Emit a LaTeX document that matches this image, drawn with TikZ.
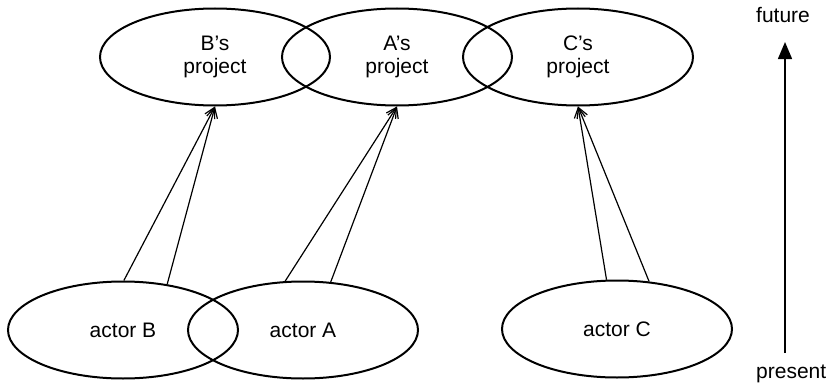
\documentclass[tikz,border=0pt]{standalone}
\usepackage{fontspec}
\setmainfont{Liberation Sans}
\usepackage{tikz}
\usetikzlibrary{arrows.meta,shapes.geometric}

\tikzset{
  blob/.style={draw,ellipse,line width=2pt,minimum width=230pt,minimum height=97pt,
    inner sep=0pt,align=center,font=\fontsize{21}{23}\selectfont},
  aim/.style={line width=1.2pt,-{Straight Barb[length=10pt,width=11pt,line width=1.2pt]}},
  lbl/.style={font=\fontsize{21}{23}\selectfont,inner sep=0pt}
}

\begin{document}
\begin{tikzpicture}[x=1pt,y=1pt]
  \useasboundingbox (0,0) rectangle (830,384);
  % projects in the future
  \node[blob] (Bproj) at (215,327) {B’s\\project};
  \node[blob] (Aproj) at (397,327) {A’s\\project};
  \node[blob] (Cproj) at (578,327) {C’s\\project};
  % actors in the present
  \node[blob] (actB) at (123,54) {actor B};
  \node[blob] (actA) at (303,54) {actor A};
  \node[blob] (actC) at (617,55) {actor C};
  \draw[aim] (actB.89) -- (Bproj.south);
  \draw[aim] (actB.46) -- (Bproj.south);
  \draw[aim] (actA.110) -- (Aproj.south);
  \draw[aim] (actA.60) -- (Aproj.south);
  \draw[aim] (actC.102) -- (Cproj.south);
  \draw[aim] (actC.56) -- (Cproj.south);
  % time axis
  \coordinate (now) at (785,31);
  \coordinate (later) at (785,342);
  \draw[line width=1.5pt,-{Triangle[length=17pt,width=14pt]}] (now) -- (later);
  \node[lbl,anchor=base west] (fut) at (756,361) {future};
  \node[lbl,anchor=base west] (pres) at (756,6) {present};
\end{tikzpicture}
\end{document}
